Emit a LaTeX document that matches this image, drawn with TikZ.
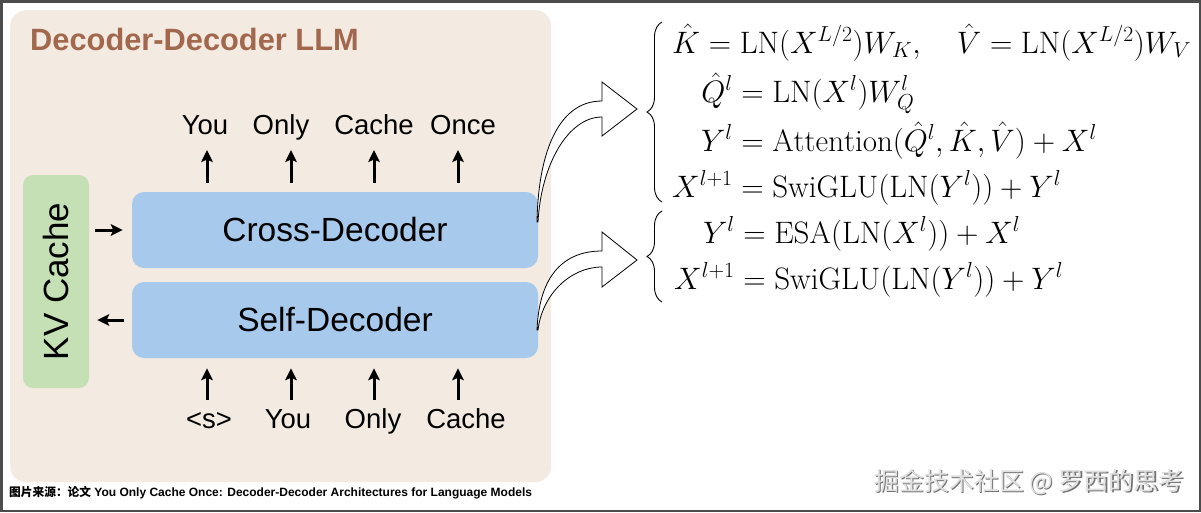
\RequirePackage{fix-cm}
\documentclass[tikz,border=0pt]{standalone}
\usepackage{amsmath}
\usepackage{fontspec}
\newfontfamily\arial{Liberation Sans}
\newfontfamily\cjk{Noto Sans CJK SC}
\usetikzlibrary{arrows.meta, decorations.pathreplacing}
\definecolor{llmbeige}{RGB}{243,234,225}
\definecolor{decblue}{RGB}{166,201,236}
\definecolor{kvgreen}{RGB}{197,224,180}
\definecolor{titlebrown}{RGB}{162,104,77}
\tikzset{
	decbox/.style={fill=decblue, rounded corners=12pt, minimum width=406pt, minimum height=76pt, inner sep=0pt, font=\arial\fontsize{33.5}{36}\selectfont},
	tok/.style={anchor=base, inner sep=0pt, font=\arial\fontsize{27.5}{30}\selectfont},
	flow/.style={-{Stealth[length=12pt,width=11.5pt,inset=2.5pt]}, line width=3pt},
	bendarrow/.style={draw, fill=white, line width=0.8pt, line join=miter},
	eqn/.style={anchor=base west, inner sep=0pt, font=\fontsize{31}{37}\selectfont},
	eqbrace/.style={decorate, decoration={brace, amplitude=15pt}, line width=0.9pt}
}
\begin{document}
\begin{tikzpicture}[x=1pt, y=-1pt]
		\useasboundingbox (0,0) rectangle (1201,512);
		\fill[white] (0,0) rectangle (1201,512);
		
		% model frame
		\node[fill=llmbeige, rounded corners=16pt, minimum width=541pt, minimum height=472pt, anchor=north west, inner sep=0pt] (llm) at (10,10) {};
		\node[anchor=base west, inner sep=0pt, text=titlebrown, font=\arial\bfseries\fontsize{30.8}{33}\selectfont] (title) at (30,50) {Decoder-Decoder LLM};
		
		\node[decbox] (cross) at (335,230) {Cross-Decoder};
		\node[decbox] (self) at (335,320) {Self-Decoder};
		\node[fill=kvgreen, rounded corners=10pt, minimum width=66pt, minimum height=213pt, inner sep=0pt, font=\arial\fontsize{35}{38}\selectfont] (kv) at (56,281.5) {\rotatebox{90}{KV Cache}};
		
		\draw[flow, shorten <=6pt, shorten >=9pt] (cross.west -| kv.east) -- (cross.west);
		\draw[flow, shorten <=8pt, shorten >=8pt] (self.west) -- (self.west -| kv.east);
		
		% tokens
		\foreach \i/\ax/\lx/\word in {1/207/205/You, 2/291/281/Only, 3/374/374/Cache, 4/458/463/Once}{
			\node[tok] (out\i) at (\lx,134) {\word};
			\coordinate (outtip\i) at (\ax,150);
			\draw[flow, shorten <=9pt] (cross.north -| outtip\i) -- (outtip\i);
		}
		\foreach \i/\ax/\lx/\word in {1/207/209/{<s>}, 2/291/288/You, 3/374/373/Only, 4/458/466/Cache}{
			\node[tok] (in\i) at (\lx,428) {\word};
			\coordinate (intail\i) at (\ax,400);
			\draw[flow, shorten >=10pt] (intail\i) -- (self.south -| intail\i);
		}
		
		% block arrows
		\draw[bendarrow] (537,222) .. controls (538,160) and (555,101) .. (602,101) -- (602,82) -- (637,109) -- (602,136) -- (602,117) .. controls (568,117) and (541,165) .. (538,222) -- cycle;
		\draw[bendarrow] (537,330) .. controls (539,280) and (560,251) .. (602,251) -- (602,232) -- (637,260) -- (602,287) -- (602,267) .. controls (570,267) and (542,295) .. (538,330) -- cycle;
		
		% equations
		\node[eqn] (crosseq) at (672,53) {$\begin{array}[t]{@{}r@{}l@{}}
			\multicolumn{2}{@{}l}{\hat{K} = \mathrm{LN}(X^{L/2})W_K, \quad \hat{V} = \mathrm{LN}(X^{L/2})W_V}\\[8.6pt]
			\hat{Q}^l & {}= \mathrm{LN}(X^l)W_Q^l\\[8.6pt]
			Y^l & {}= \mathrm{Attention}(\hat{Q}^l, \hat{K}, \hat{V}) + X^l\\[8.6pt]
			X^{l+1} & {}= \mathrm{SwiGLU}(\mathrm{LN}(Y^l)) + Y^l
		\end{array}$};
		\node[eqn] (selfeq) at (674,243) {$\begin{array}[t]{@{}r@{}l@{}}
			Y^l & {}= \mathrm{ESA}(\mathrm{LN}(X^l)) + X^l\\[8.6pt]
			X^{l+1} & {}= \mathrm{SwiGLU}(\mathrm{LN}(Y^l)) + Y^l
		\end{array}$};
		\coordinate (cb1) at (662,22);
		\coordinate (cb2) at (662,202);
		\coordinate (sb1) at (662,211);
		\coordinate (sb2) at (662,302);
		\draw[eqbrace] (cb2) -- (cb1);
		\draw[eqbrace] (sb2) -- (sb1);
		
		% source and watermark
		\node[anchor=west, inner sep=0pt, font=\arial\bfseries\fontsize{12}{13}\selectfont] (src) at (9,493) {{\cjk\bfseries\fontsize{11.7}{13}\selectfont 图片来源：论文} You Only Cache Once: Decoder-Decoder Architectures for Language Models};
		\node[text=black!55, font=\cjk\fontsize{25}{27}\selectfont] (markshadow) at (1030.2,483.2) {掘金技术社区 @ 罗西的思考};
		\node[text=black!12, font=\cjk\fontsize{25}{27}\selectfont] (mark) at (1029,482) {掘金技术社区 @ 罗西的思考};
		
		\draw[line width=2.5pt, black!70] (1.25,1.25) rectangle (1199.75,510.75);
	\end{tikzpicture}
\end{document}
